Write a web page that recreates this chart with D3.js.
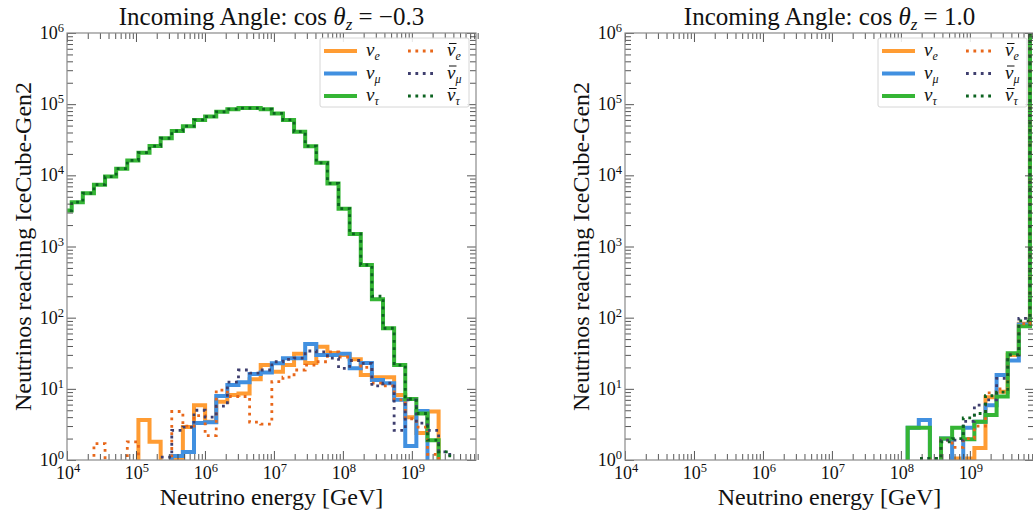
<!DOCTYPE html>
<html>
<head>
<meta charset="utf-8">
<script src="https://cdn.jsdelivr.net/npm/d3@7"></script>
<style>
  body { margin: 0; background: #fff; }
  svg { display: block; font-family: "Liberation Serif", "DejaVu Serif", serif; }
</style>
</head>
<body>
<div id="vis"></div>
<script>
// histogram bins (log10 of energy edges), 38 bins
const BIN_LOG0 = 3.907;
const BIN_LOG_STEP = 0.1612;
const N_BINS = 38;

// cos(theta_z) = -0.3
const nuE_a     = [0,0,0,0,0,0,0,3.65,1.8,0,1.05,2.9,5.9,3.45,6.6,8.2,8.6,13.6,21.6,17.4,21.6,31,23,39,32,30,26,15.6,14.6,14.6,8.2,4.0,2.4,4.8,0,0,0,0];
const nuMu_a    = [0,0,0,0,0,0,0,0,0,0,1.14,1.3,3.3,3.4,7.9,11.3,12.4,16.1,17,22.8,26.8,26.8,42.6,29.8,29.8,31,19.4,23,13.3,12,7.0,1.57,4.9,0,0,0,0,0];
const nuTau_a   = [3200,4200,5600,7400,9600,12400,16200,20800,25800,33200,42000,49000,60000,67000,78000,85000,88000,88000,85000,74000,60000,41000,25700,15000,7700,3400,1500,550,182,71,21.6,7.2,4.5,1.9,0,0,0,0];
const nuEBar_a  = [0,0,0,1.7,0,0,1.8,0,0,0,4.8,3.0,4.2,2.2,9.6,7.8,7.8,3.4,3.2,12.6,14.6,18.4,21.6,24,33,28,25,20,12,11,7,3.8,2.9,1.2,0,0,0,0];
const nuMuBar_a = [0,0,0,0,0,0,0,0,0,1.1,2.6,2.9,5.0,4.0,5.7,12.4,18.4,16.6,18.4,24,26,27,34,33,27,19.4,25,22.8,11,12,2.6,7,3.3,2.6,1.3,0,0,0];
const nuTauBar_a= [3200,4200,5600,7400,9600,12400,16200,20800,25800,33200,42000,49000,60000,67000,78000,85000,88000,88000,85000,74000,60000,41000,25700,15000,7700,3400,1500,550,200,71,21.6,7.2,4.5,1.9,1.3,0,0,0];

// cos(theta_z) = 1.0
const nuE_b     = [0,0,0,0,0,0,0,0,0,0,0,0,0,0,0,0,0,0,0,0,0,0,0,0,0,0,0,0,0,0,1.05,1.05,1.47,7.6,9.1,30,82,3e6];
const nuMu_b    = [0,0,0,0,0,0,0,0,0,0,0,0,0,0,0,0,0,0,0,0,0,0,0,0,0,0,2.85,3.65,0,2.0,0,2.85,3.45,5.9,15.6,25,80,3e6];
const nuTau_b   = [0,0,0,0,0,0,0,0,0,0,0,0,0,0,0,0,0,0,0,0,0,0,0,0,0,0,2.85,2.85,0,2.0,2.85,1.95,3.45,4.3,7.8,31.5,76,3e6];
const nuEBar_b  = [0,0,0,0,0,0,0,0,0,0,0,0,0,0,0,0,0,0,0,0,0,0,0,0,0,0,0,0,1.05,1.9,1.5,2.0,3.0,8.8,10,30,82,3e6];
const nuMuBar_b = [0,0,0,0,0,0,0,0,0,0,0,0,0,0,0,0,0,0,0,0,0,0,0,0,0,0,0,1.05,1.05,1.9,1.9,3.5,5.9,7,14,30,98,3e6];
const nuTauBar_b= [0,0,0,0,0,0,0,0,0,0,0,0,0,0,0,0,0,0,0,0,0,0,0,0,0,0,0,1.05,1.05,1.8,2.0,3.9,4.5,8,9,30,90,3e6];

const titles = ["-0.3", "1.0"];
const xMajor = [1e4, 1e5, 1e6, 1e7, 1e8, 1e9];
const yMajor = [1e0, 1e1, 1e2, 1e3, 1e4, 1e5, 1e6];

const series = [
  {key: "e",   bar: false, color: "#ff9c33", a: nuE_a,      b: nuE_b},
  {key: "μ",   bar: false, color: "#4190e0", a: nuMu_a,     b: nuMu_b},
  {key: "τ",   bar: false, color: "#35b535", a: nuTau_a,    b: nuTau_b},
  {key: "e",   bar: true,  color: "#e8671a", a: nuEBar_a,   b: nuEBar_b},
  {key: "μ",   bar: true,  color: "#3e3e6e", a: nuMuBar_a,  b: nuMuBar_b},
  {key: "τ",   bar: true,  color: "#0c6320", a: nuTauBar_a, b: nuTauBar_b},
];

const WIDTH = 1033, HEIGHT = 517;
const panels = [
  {left: 67,  title: titles[0], field: "a"},
  {left: 625, title: titles[1], field: "b"},
];
const AX_W = 409, AX_TOP = 33, AX_BOT = 460;

const svg = d3.select("#vis").append("svg")
  .attr("width", WIDTH).attr("height", HEIGHT);

const edges = d3.range(N_BINS + 1).map(i => Math.pow(10, BIN_LOG0 + BIN_LOG_STEP * i));

let minorTicks = [];
for (let k = 4; k <= 9; k++) for (let m = 2; m <= 9; m++) minorTicks.push(m * Math.pow(10, k));
let yMinor = [];
for (let k = 0; k <= 5; k++) for (let m = 2; m <= 9; m++) yMinor.push(m * Math.pow(10, k));

function supLabel(sel, exp) {
  sel.append("tspan").text("10");
  sel.append("tspan").attr("dy", -7).attr("font-size", 12.5).text(exp);
}

panels.forEach((p, pi) => {
  const x = d3.scaleLog().domain([1e4, Math.pow(10, 9.93)]).range([p.left, p.left + AX_W]);
  const y = d3.scaleLog().domain([1, 1e6]).range([AX_BOT, AX_TOP]);
  const g = svg.append("g");

  const clipId = "clip" + pi;
  svg.append("clipPath").attr("id", clipId).append("rect")
    .attr("x", p.left).attr("y", AX_TOP).attr("width", AX_W).attr("height", AX_BOT - AX_TOP);

  // histogram steps
  const plot = g.append("g").attr("clip-path", `url(#${clipId})`);
  const yLow = AX_BOT + 30;
  series.forEach(s => {
    const vals = s[p.field];
    const path = d3.path();
    path.moveTo(x(edges[0]), yLow);
    vals.forEach((v, i) => {
      const yy = v > 0 ? y(v) : yLow;
      path.lineTo(x(edges[i]), yy);
      path.lineTo(x(edges[i + 1]), yy);
    });
    path.lineTo(x(edges[N_BINS]), yLow);
    plot.append("path")
      .attr("d", path.toString())
      .attr("fill", "none")
      .attr("stroke", s.color)
      .attr("stroke-width", s.bar ? 2.8 : 4)
      .attr("stroke-dasharray", s.bar ? "2.8,4.6" : null)
      .attr("stroke-linejoin", "miter");
  });

  // ticks (inward, all four sides)
  const tickStyle = sel => {
    sel.select(".domain").remove();
    sel.selectAll("line").attr("stroke", "#444").attr("stroke-width", 0.9);
    sel.selectAll("text").remove();
  };
  const addAxis = (axis, tx, ty) => g.append("g").attr("transform", `translate(${tx},${ty})`).call(axis).call(tickStyle);

  addAxis(d3.axisBottom(x).tickValues(xMajor).tickSize(-9).tickSizeOuter(0), 0, AX_BOT);
  addAxis(d3.axisBottom(x).tickValues(minorTicks).tickSize(-6).tickSizeOuter(0), 0, AX_BOT);
  addAxis(d3.axisTop(x).tickValues(xMajor).tickSize(-9).tickSizeOuter(0), 0, AX_TOP);
  addAxis(d3.axisTop(x).tickValues(minorTicks).tickSize(-6).tickSizeOuter(0), 0, AX_TOP);
  addAxis(d3.axisLeft(y).tickValues(yMajor).tickSize(-9).tickSizeOuter(0), p.left, 0);
  addAxis(d3.axisLeft(y).tickValues(yMinor).tickSize(-6).tickSizeOuter(0), p.left, 0);
  addAxis(d3.axisRight(y).tickValues(yMajor).tickSize(-9).tickSizeOuter(0), p.left + AX_W, 0);
  addAxis(d3.axisRight(y).tickValues(yMinor).tickSize(-6).tickSizeOuter(0), p.left + AX_W, 0);

  // frame
  g.append("rect")
    .attr("x", p.left).attr("y", AX_TOP).attr("width", AX_W).attr("height", AX_BOT - AX_TOP)
    .attr("fill", "none").attr("stroke", "#8a8a8a").attr("stroke-width", 1.2);

  // tick labels
  xMajor.forEach(v => {
    const t = g.append("text").attr("x", x(v) + 1).attr("y", 479)
      .attr("text-anchor", "middle").attr("font-size", 18).attr("fill", "#111");
    supLabel(t, Math.round(Math.log10(v)));
  });
  yMajor.forEach(v => {
    const t = g.append("text").attr("x", p.left - 3).attr("y", y(v) + 6)
      .attr("text-anchor", "end").attr("font-size", 18).attr("fill", "#111");
    supLabel(t, Math.round(Math.log10(v)));
  });

  // title
  const cx = p.left + AX_W / 2;
  const tt = g.append("text").attr("x", cx).attr("y", 25)
    .attr("text-anchor", "middle").attr("font-size", 25).attr("fill", "#111");
  tt.append("tspan").text("Incoming Angle: cos ");
  tt.append("tspan").attr("font-style", "italic").text("θ");
  tt.append("tspan").attr("font-style", "italic").attr("font-size", 17).attr("dy", 5).text("z");
  tt.append("tspan").attr("dy", -5).text(" = " + p.title.replace("-", "−"));

  // axis labels
  g.append("text").attr("x", cx).attr("y", 505)
    .attr("text-anchor", "middle").attr("font-size", 24).attr("fill", "#111")
    .text("Neutrino energy [GeV]");
  g.append("text")
    .attr("transform", `translate(${p.left - 36},${(AX_TOP + AX_BOT) / 2}) rotate(-90)`)
    .attr("text-anchor", "middle").attr("font-size", 24).attr("fill", "#111")
    .text("Neutrinos reaching IceCube-Gen2");

  // legend
  const lx = p.left + AX_W - 156;
  const leg = g.append("g");
  leg.append("rect")
    .attr("x", lx).attr("y", 38).attr("width", 149).attr("height", 69)
    .attr("rx", 2).attr("fill", "#fff").attr("fill-opacity", 0.85)
    .attr("stroke", "#d6d6d6").attr("stroke-width", 1);
  series.forEach((s, i) => {
    const col = s.bar ? 1 : 0;
    const row = i % 3;
    const ry = 51 + row * 22.5;
    const x0 = lx + (col ? 88 : 4);
    const x1 = x0 + (col ? 26 : 33);
    leg.append("line").attr("x1", x0).attr("x2", x1).attr("y1", ry).attr("y2", ry)
      .attr("stroke", s.color)
      .attr("stroke-width", s.bar ? 2.8 : 4)
      .attr("stroke-dasharray", s.bar ? "2.8,4.6" : null);
    const tx = col ? lx + 127 : lx + 46;
    const t = leg.append("text").attr("x", tx).attr("y", ry + 5)
      .attr("font-size", 19).attr("font-style", "italic").attr("fill", "#111");
    t.append("tspan").text("ν");
    t.append("tspan").attr("font-size", 12).attr("dy", 4).text(s.key);
    if (s.bar) {
      // macron over nu
      leg.append("line").attr("x1", tx + 2).attr("x2", tx + 9.5)
        .attr("y1", ry - 7.5).attr("y2", ry - 7.5)
        .attr("stroke", "#111").attr("stroke-width", 1);
    }
  });
});
</script>
</body>
</html>
